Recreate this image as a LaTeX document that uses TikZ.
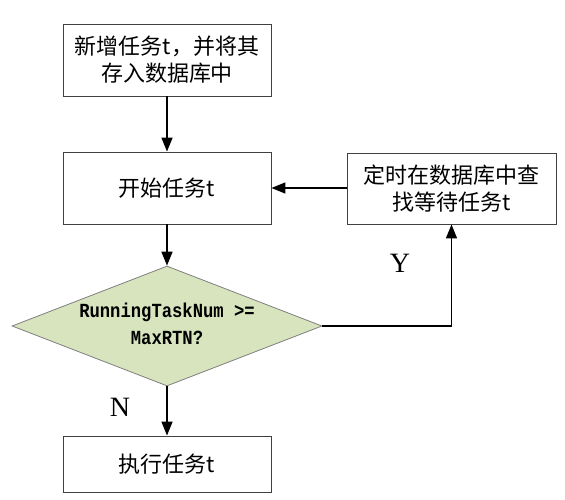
\documentclass[tikz,border=0pt]{standalone}
\usepackage{fontspec}
\setmainfont{Liberation Serif}
\newfontfamily\cjk{Noto Sans CJK SC}
\newfontfamily\monob{Liberation Mono}
\usetikzlibrary{shapes.geometric,arrows.meta}
\definecolor{dfill}{HTML}{D7E4BD}
\definecolor{bordc}{HTML}{404040}
\definecolor{dbord}{HTML}{7F7F7F}
\begin{document}
\begin{tikzpicture}[x=1pt,y=-1pt,
  procbox/.style={draw=bordc,line width=0.9pt,fill=white,minimum width=208pt,minimum height=72pt,inner sep=0pt,align=center,font=\cjk\fontsize{22}{27}\selectfont},
  decis/.style={shape=diamond,draw=dbord,line width=0.8pt,fill=dfill,inner sep=0pt,aspect=2.58,minimum width=310pt,minimum height=120pt,font=\monob\bfseries\fontsize{20}{27}\selectfont},
  flow/.style={line width=1.6pt,-{Triangle[width=11pt,length=14pt]}},
  lbl/.style={font=\fontsize{28}{28}\selectfont,inner sep=0pt}]
\useasboundingbox (0,0) rectangle (565,499);
\node[procbox] (add) at (167,60) {新增任务t，并将其\\存入数据库中};
\node[procbox] (start) at (167,188) {开始任务t};
\node[procbox,minimum width=209pt,minimum height=71pt] (find) at (451.5,188.5) {定时在数据库中查\\找等待任务t};
\node[decis] (cond) at (167,326) {\makebox[0pt]{\smash{\raisebox{-5pt}{\scalebox{0.86}[1]{\renewcommand\arraystretch{1}\begin{tabular}{@{}c@{}}RunningTaskNum >=\\MaxRTN?\end{tabular}}}}}};
\node[procbox,minimum height=56pt] (exec) at (167,464) {执行任务t};
\coordinate (corner) at (find.south |- cond.east);
\draw[flow] (add) -- (start);
\draw[flow] (start) -- (cond);
\draw[flow] (cond) -- (exec);
\draw[flow] (find.west |- start.east) -- (start.east);
\draw[flow] (cond.east) -- (corner) -- (find.south);
\node[lbl] (ylab) at (400,263) {Y};
\node[lbl] (nlab) at (120,407) {N};
\end{tikzpicture}
\end{document}
